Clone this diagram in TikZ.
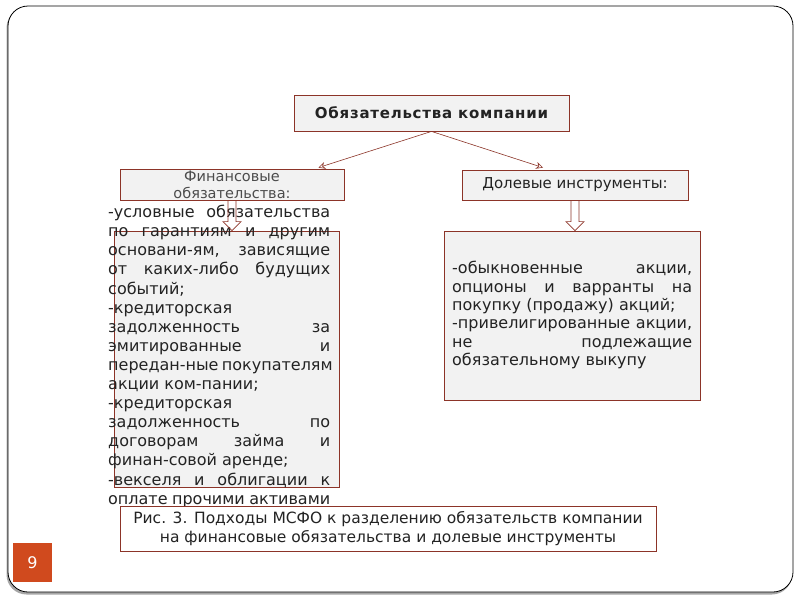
\documentclass[tikz,border=0pt]{standalone}
\usepackage{fontspec}
\setmainfont{DejaVu Sans}
\usepackage{xcolor}
\usetikzlibrary{arrows.meta, calc}
\definecolor{bred}{RGB}{140,52,40}
\definecolor{bfill}{RGB}{242,242,242}
\definecolor{pnum}{RGB}{208,74,30}
\definecolor{txt}{RGB}{35,35,35}
% justified lines of the two lists
\newcommand{\jfin}[1]{\makebox[222pt][s]{#1}}
\newcommand{\jdol}[1]{\makebox[240pt][s]{#1}}
% hollow down arrow from one box to another
\newcommand{\harrow}[2]{%
\draw[hollow] ($(#1.south)+(-4,0)$) -- ($(#1.south |- #2.north)+(-4,-9)$)
  -- ($(#1.south |- #2.north)+(-9,-9)$) -- (#1.south |- #2.north)
  -- ($(#1.south |- #2.north)+(9,-9)$) -- ($(#1.south |- #2.north)+(4,-9)$)
  -- ($(#1.south)+(4,0)$);}

\begin{document}
\begin{tikzpicture}[x=1pt,y=-1pt,
  box/.style={draw=bred, fill=bfill, line width=0.8pt, inner sep=0pt},
  hollow/.style={draw=bred, line width=0.7pt},
  link/.style={draw=bred, line width=0.6pt, -{Stealth[open,length=7pt,width=7pt]}},
  txtf/.style={font=\fontsize{16}{19.1}\selectfont, text=txt}
]
\useasboundingbox (0,0) rectangle (800,600);

%slide frame with shadow:
\fill[black!35, rounded corners=20] (6.5,8) rectangle (792,594.5);
\draw[fill=white, line width=0.8pt, rounded corners=20] (8,6) rectangle (793,592);

%boxes:
\node[box, minimum width=275, minimum height=36,
  font=\fontsize{15}{18}\selectfont\bfseries\addfontfeature{LetterSpace=5}, text=txt] (top) at (431.5,113) {Обязательства компании};
\node[box, minimum width=224, minimum height=31, align=center,
  font=\fontsize{14.5}{17}\selectfont, text=black!70] (fin) at (232,184.5) {Финансовые\\обязательства:};
\node[box, minimum width=226, minimum height=30,
  font=\fontsize{15}{18}\selectfont, text=txt] (dol) at (575,185) {Долевые инструменты:};
\node[box, minimum width=225, minimum height=256] (finlist) at (226.5,359) {};
\node[box, minimum width=256, minimum height=169] (dollist) at (572,315.5) {};

%lists:
\node[txtf, inner sep=0pt, anchor=north west, align=left] (fintext) at (108,205) {%
\jfin{-условные обязательства}\\
\jfin{по гарантиям и другим}\\
\jfin{основани-ям, зависящие}\\
\jfin{от каких-либо будущих}\\
событий;\\
-кредиторская\\
\jfin{задолженность за}\\
\jfin{эмитированные и}\\
\jfin{передан-ные покупателям}\\
акции ком-пании;\\
-кредиторская\\
\jfin{задолженность по}\\
\jfin{договорам займа и}\\
финан-совой аренде;\\
\jfin{-векселя и облигации к}\\
\jfin{оплате прочими активами}};
\node[txtf, font=\fontsize{16}{18.4}\selectfont, inner sep=0pt, anchor=north west, align=left] (doltext) at (452,261) {%
\jdol{-обыкновенные акции,}\\
\jdol{опционы и варранты на}\\
покупку (продажу) акций;\\
\jdol{-привелигированные акции,}\\
\jdol{не подлежащие}\\
обязательному выкупу};

%arrows:
\draw[link] (top.south) -- ($(fin.north east)+(-26,-1)$);
\draw[link] (top.south) -- ($(dol.north)+(-32,-2)$);
\harrow{fin}{finlist}
\harrow{dol}{dollist}

%caption:
\node[draw=bred, fill=white, line width=0.8pt, minimum width=536, minimum height=45,
  inner sep=0pt, align=center, font=\fontsize{15.5}{19}\selectfont, text=txt] (cap) at (388,528.5)
  {Рис. 3. Подходы МСФО к разделению обязательств компании\\на финансовые обязательства и долевые инструменты};

%page number:
\node[fill=pnum, minimum size=39, inner sep=0pt, text=white,
  font=\fontsize{16}{18}\selectfont] (pg) at (32.5,562.5) {9};
\end{tikzpicture}
\end{document}
